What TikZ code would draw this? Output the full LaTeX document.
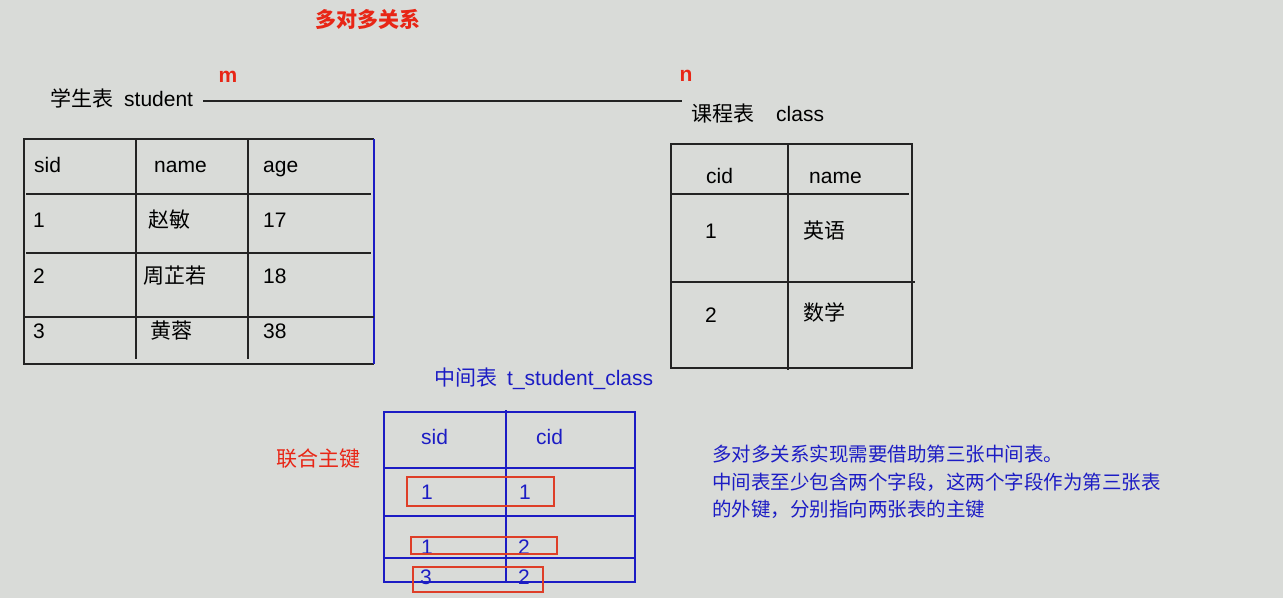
\documentclass[tikz,border=0pt]{standalone}
\usepackage{fontspec}
\setmainfont{Liberation Sans}
\newfontfamily\cjk{Noto Sans CJK SC}
\usepackage{xcolor}
\definecolor{cBg}{RGB}{217,219,216}
\definecolor{cRed}{RGB}{232,38,22}
\definecolor{cBlue}{RGB}{28,28,196}
\definecolor{cLine}{RGB}{35,35,35}
\definecolor{cBox}{RGB}{222,62,40}
\tikzset{
  txt/.style={anchor=west,inner sep=0pt,text height=15pt,text depth=0pt,font=\fontsize{21}{25}\selectfont},
  bluetxt/.style={txt,text=cBlue},
  redtxt/.style={txt,text=cRed},
  desctxt/.style={anchor=west,inner sep=0pt,text height=14pt,text depth=0pt,text=cBlue,font=\fontsize{19.5}{23}\selectfont\cjk},
  grid/.style={cLine,line width=1.3pt},
  bluegrid/.style={cBlue,line width=1.3pt},
  keybox/.style={cBox,line width=1.3pt}
}

\begin{document}
\begin{tikzpicture}[x=1pt,y=-1pt]
\fill[cBg] (0,0) rectangle (1283,598);
\useasboundingbox (0,0) rectangle (1283,598);
\node[redtxt,anchor=center,font=\fontsize{21}{25}\selectfont\cjk\bfseries] (title) at (368,20) {多对多关系};
\node[redtxt,anchor=center,font=\fontsize{21}{25}\selectfont\bfseries] (mlabel) at (228,75) {m};
\node[redtxt,anchor=center,font=\fontsize{21}{25}\selectfont\bfseries] (nlabel) at (686,74) {n};
\node[txt] (stulabel) at (50,99) {{\cjk 学生表}\hspace{11pt}student};
\node[txt] (clslabel) at (691,114) {{\cjk 课程表}\hspace{22pt}class};
\coordinate (mstart) at (203,101);
\coordinate (nend) at (682,101);
\draw[cLine,line width=1.2pt] (mstart) -- (nend);
\draw[grid] (374,139) -- (24,139) -- (24,364) -- (374,364);
\draw[bluegrid] (374,139) -- (374,364);
\draw[grid] (136,139) -- (136,359);
\draw[grid] (248,139) -- (248,359);
\draw[grid] (26,194) -- (371,194);
\draw[grid] (26,253) -- (371,253);
\draw[grid] (24,317) -- (374,317);
\node[txt] (ssid) at (34,165) {sid};
\node[txt] (sname) at (154,165) {name};
\node[txt] (sage) at (263,165) {age};
\node[txt] (s1id) at (33,220) {1};
\node[txt] (s1name) at (148,220) {{\cjk 赵敏}};
\node[txt] (s1age) at (263,220) {17};
\node[txt] (s2id) at (33,276) {2};
\node[txt] (s2name) at (143,276) {{\cjk 周芷若}};
\node[txt] (s2age) at (263,276) {18};
\node[txt] (s3id) at (33,331) {3};
\node[txt] (s3name) at (150,331) {{\cjk 黄蓉}};
\node[txt] (s3age) at (263,331) {38};
\draw[grid] (671,144) rectangle (912,368);
\draw[grid] (788,144) -- (788,370);
\draw[grid] (671,194) -- (909,194);
\draw[grid] (671,282) -- (915,282);
\node[txt] (ccid) at (706,176) {cid};
\node[txt] (cname) at (809,176) {name};
\node[txt] (c1id) at (705,231) {1};
\node[txt] (c1name) at (803,231) {{\cjk 英语}};
\node[txt] (c2id) at (705,315) {2};
\node[txt] (c2name) at (803,313) {{\cjk 数学}};
\node[bluetxt] (midlabel) at (434,378) {{\cjk 中间表}\hspace{10pt}t\_student\_class};
\node[redtxt,font=\fontsize{21}{25}\selectfont\cjk] (keylabel) at (276,459) {联合主键};
\draw[bluegrid] (384,412) rectangle (635,582);
\draw[bluegrid] (506,410) -- (506,582);
\draw[bluegrid] (383,468) -- (635,468);
\draw[bluegrid] (384,516) -- (635,516);
\draw[bluegrid] (384,558) -- (635,558);
\node[bluetxt] (msid) at (421,437) {sid};
\node[bluetxt] (mcid) at (536,437) {cid};
\node[bluetxt] (m1sid) at (421,492) {1};
\node[bluetxt] (m1cid) at (519,492) {1};
\node[bluetxt] (m2sid) at (421,547) {1};
\node[bluetxt] (m2cid) at (518,547) {2};
\node[bluetxt] (m3sid) at (420,577) {3};
\node[bluetxt] (m3cid) at (518,577) {2};
\draw[keybox] (407,477) rectangle (554,506);
\draw[keybox] (411,537) rectangle (557,554);
\draw[keybox] (413,567) rectangle (543,592);
\node[desctxt] (desc1) at (712,454) {多对多关系实现需要借助第三张中间表。};
\node[desctxt] (desc2) at (712,482) {中间表至少包含两个字段，这两个字段作为第三张表};
\node[desctxt] (desc3) at (712,509) {的外键，分别指向两张表的主键};
\end{tikzpicture}
\end{document}
